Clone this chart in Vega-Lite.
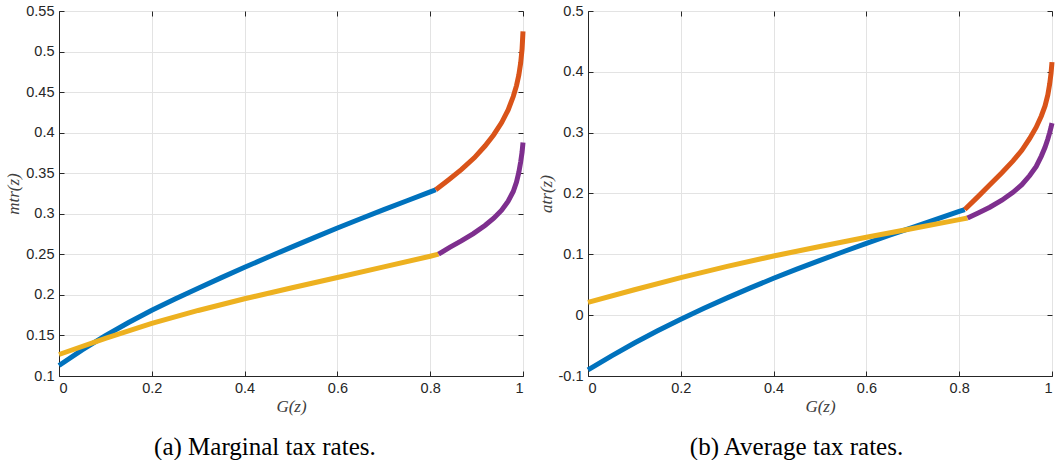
{
  "$schema": "https://vega.github.io/schema/vega-lite/v6.json",
  "background": "white",
  "padding": {"left": 4, "top": 2, "right": 0, "bottom": 0},
  "spacing": 2,
  "config": {
    "view": {"stroke": "#262626", "strokeWidth": 1},
    "axis": {
      "labelFont": "Liberation Sans",
      "labelFontSize": 14.5,
      "labelColor": "#262626",
      "titleFont": "Liberation Serif",
      "titleFontStyle": "italic",
      "titleFontWeight": "normal",
      "titleFontSize": 17,
      "titleColor": "#404040",
      "gridColor": "#e3e3e3",
      "gridWidth": 1,
      "domainColor": "#262626",
      "tickColor": "#262626",
      "tickSize": -5,
      "labelPadding": 10
    }
  },
  "datasets": {
    "curves": [
      {"panel": "a", "series": "blue", "G": 0, "rate": 0.113},
      {"panel": "a", "series": "blue", "G": 0.05, "rate": 0.1322},
      {"panel": "a", "series": "blue", "G": 0.1, "rate": 0.1498},
      {"panel": "a", "series": "blue", "G": 0.15, "rate": 0.166},
      {"panel": "a", "series": "blue", "G": 0.2, "rate": 0.181},
      {"panel": "a", "series": "blue", "G": 0.25, "rate": 0.195},
      {"panel": "a", "series": "blue", "G": 0.3, "rate": 0.2083},
      {"panel": "a", "series": "blue", "G": 0.35, "rate": 0.2213},
      {"panel": "a", "series": "blue", "G": 0.4, "rate": 0.234},
      {"panel": "a", "series": "blue", "G": 0.45, "rate": 0.2464},
      {"panel": "a", "series": "blue", "G": 0.5, "rate": 0.2586},
      {"panel": "a", "series": "blue", "G": 0.55, "rate": 0.2706},
      {"panel": "a", "series": "blue", "G": 0.6, "rate": 0.2825},
      {"panel": "a", "series": "blue", "G": 0.65, "rate": 0.2939},
      {"panel": "a", "series": "blue", "G": 0.7, "rate": 0.3051},
      {"panel": "a", "series": "blue", "G": 0.75, "rate": 0.3161},
      {"panel": "a", "series": "blue", "G": 0.8, "rate": 0.327},
      {"panel": "a", "series": "blue", "G": 0.812, "rate": 0.3296},
      {"panel": "a", "series": "orange", "G": 0.812, "rate": 0.3296},
      {"panel": "a", "series": "orange", "G": 0.84, "rate": 0.342},
      {"panel": "a", "series": "orange", "G": 0.867, "rate": 0.3545},
      {"panel": "a", "series": "orange", "G": 0.895, "rate": 0.369},
      {"panel": "a", "series": "orange", "G": 0.918, "rate": 0.3835},
      {"panel": "a", "series": "orange", "G": 0.937, "rate": 0.3975},
      {"panel": "a", "series": "orange", "G": 0.954, "rate": 0.4125},
      {"panel": "a", "series": "orange", "G": 0.968, "rate": 0.428},
      {"panel": "a", "series": "orange", "G": 0.979, "rate": 0.4445},
      {"panel": "a", "series": "orange", "G": 0.986, "rate": 0.458},
      {"panel": "a", "series": "orange", "G": 0.991, "rate": 0.471},
      {"panel": "a", "series": "orange", "G": 0.995, "rate": 0.486},
      {"panel": "a", "series": "orange", "G": 0.998, "rate": 0.503},
      {"panel": "a", "series": "orange", "G": 1.0, "rate": 0.525},
      {"panel": "a", "series": "yellow", "G": 0, "rate": 0.1265},
      {"panel": "a", "series": "yellow", "G": 0.1, "rate": 0.1465},
      {"panel": "a", "series": "yellow", "G": 0.2, "rate": 0.1648},
      {"panel": "a", "series": "yellow", "G": 0.3, "rate": 0.1808},
      {"panel": "a", "series": "yellow", "G": 0.4, "rate": 0.1952},
      {"panel": "a", "series": "yellow", "G": 0.5, "rate": 0.2085},
      {"panel": "a", "series": "yellow", "G": 0.6, "rate": 0.2215},
      {"panel": "a", "series": "yellow", "G": 0.7, "rate": 0.2345},
      {"panel": "a", "series": "yellow", "G": 0.8, "rate": 0.2477},
      {"panel": "a", "series": "yellow", "G": 0.818, "rate": 0.2502},
      {"panel": "a", "series": "purple", "G": 0.818, "rate": 0.2502},
      {"panel": "a", "series": "purple", "G": 0.842, "rate": 0.2585},
      {"panel": "a", "series": "purple", "G": 0.867, "rate": 0.2665},
      {"panel": "a", "series": "purple", "G": 0.893, "rate": 0.2755},
      {"panel": "a", "series": "purple", "G": 0.918, "rate": 0.2855},
      {"panel": "a", "series": "purple", "G": 0.937, "rate": 0.2945},
      {"panel": "a", "series": "purple", "G": 0.954, "rate": 0.3045},
      {"panel": "a", "series": "purple", "G": 0.968, "rate": 0.3155},
      {"panel": "a", "series": "purple", "G": 0.979, "rate": 0.3275},
      {"panel": "a", "series": "purple", "G": 0.986, "rate": 0.339},
      {"panel": "a", "series": "purple", "G": 0.991, "rate": 0.351},
      {"panel": "a", "series": "purple", "G": 0.995, "rate": 0.364},
      {"panel": "a", "series": "purple", "G": 0.998, "rate": 0.376},
      {"panel": "a", "series": "purple", "G": 1.0, "rate": 0.388},
      {"panel": "b", "series": "blue", "G": 0, "rate": -0.09},
      {"panel": "b", "series": "blue", "G": 0.05, "rate": -0.0672},
      {"panel": "b", "series": "blue", "G": 0.1, "rate": -0.0458},
      {"panel": "b", "series": "blue", "G": 0.15, "rate": -0.0257},
      {"panel": "b", "series": "blue", "G": 0.2, "rate": -0.0066},
      {"panel": "b", "series": "blue", "G": 0.25, "rate": 0.0114},
      {"panel": "b", "series": "blue", "G": 0.3, "rate": 0.0284},
      {"panel": "b", "series": "blue", "G": 0.35, "rate": 0.0448},
      {"panel": "b", "series": "blue", "G": 0.4, "rate": 0.0606},
      {"panel": "b", "series": "blue", "G": 0.45, "rate": 0.0756},
      {"panel": "b", "series": "blue", "G": 0.5, "rate": 0.0901},
      {"panel": "b", "series": "blue", "G": 0.55, "rate": 0.1042},
      {"panel": "b", "series": "blue", "G": 0.6, "rate": 0.118},
      {"panel": "b", "series": "blue", "G": 0.65, "rate": 0.1314},
      {"panel": "b", "series": "blue", "G": 0.7, "rate": 0.1445},
      {"panel": "b", "series": "blue", "G": 0.75, "rate": 0.1575},
      {"panel": "b", "series": "blue", "G": 0.8, "rate": 0.1705},
      {"panel": "b", "series": "blue", "G": 0.812, "rate": 0.1736},
      {"panel": "b", "series": "orange", "G": 0.812, "rate": 0.1736},
      {"panel": "b", "series": "orange", "G": 0.84, "rate": 0.1945},
      {"panel": "b", "series": "orange", "G": 0.866, "rate": 0.2145},
      {"panel": "b", "series": "orange", "G": 0.892, "rate": 0.234},
      {"panel": "b", "series": "orange", "G": 0.916, "rate": 0.2535},
      {"panel": "b", "series": "orange", "G": 0.935, "rate": 0.271},
      {"panel": "b", "series": "orange", "G": 0.952, "rate": 0.2905},
      {"panel": "b", "series": "orange", "G": 0.966, "rate": 0.309},
      {"panel": "b", "series": "orange", "G": 0.977, "rate": 0.3275},
      {"panel": "b", "series": "orange", "G": 0.985, "rate": 0.344},
      {"panel": "b", "series": "orange", "G": 0.991, "rate": 0.362},
      {"panel": "b", "series": "orange", "G": 0.995, "rate": 0.38},
      {"panel": "b", "series": "orange", "G": 0.998, "rate": 0.398},
      {"panel": "b", "series": "orange", "G": 1.0, "rate": 0.416},
      {"panel": "b", "series": "yellow", "G": 0, "rate": 0.021},
      {"panel": "b", "series": "yellow", "G": 0.1, "rate": 0.0418},
      {"panel": "b", "series": "yellow", "G": 0.2, "rate": 0.0618},
      {"panel": "b", "series": "yellow", "G": 0.3, "rate": 0.0802},
      {"panel": "b", "series": "yellow", "G": 0.4, "rate": 0.0972},
      {"panel": "b", "series": "yellow", "G": 0.5, "rate": 0.1128},
      {"panel": "b", "series": "yellow", "G": 0.6, "rate": 0.128},
      {"panel": "b", "series": "yellow", "G": 0.7, "rate": 0.1425},
      {"panel": "b", "series": "yellow", "G": 0.8, "rate": 0.157},
      {"panel": "b", "series": "yellow", "G": 0.818, "rate": 0.1598},
      {"panel": "b", "series": "purple", "G": 0.818, "rate": 0.1598},
      {"panel": "b", "series": "purple", "G": 0.842, "rate": 0.1685},
      {"panel": "b", "series": "purple", "G": 0.866, "rate": 0.1775},
      {"panel": "b", "series": "purple", "G": 0.892, "rate": 0.189},
      {"panel": "b", "series": "purple", "G": 0.916, "rate": 0.202},
      {"panel": "b", "series": "purple", "G": 0.935, "rate": 0.2145},
      {"panel": "b", "series": "purple", "G": 0.952, "rate": 0.2295},
      {"panel": "b", "series": "purple", "G": 0.966, "rate": 0.2445},
      {"panel": "b", "series": "purple", "G": 0.977, "rate": 0.2615},
      {"panel": "b", "series": "purple", "G": 0.985, "rate": 0.276},
      {"panel": "b", "series": "purple", "G": 0.991, "rate": 0.2895},
      {"panel": "b", "series": "purple", "G": 0.995, "rate": 0.300},
      {"panel": "b", "series": "purple", "G": 0.998, "rate": 0.309},
      {"panel": "b", "series": "purple", "G": 1.0, "rate": 0.3157}
    ]
  },
  "hconcat": [
    {
      "width": 464,
      "height": 365,
      "data": {"name": "curves"},
      "transform": [{"filter": "datum.panel === 'a'"}],
      "title": {"text": "(a) Marginal tax rates.", "orient": "bottom", "frame": "bounds", "anchor": "middle", "dx": -4, "font": "Liberation Serif", "fontSize": 25, "fontWeight": "normal", "color": "black", "offset": 20},
      "layer": [
        {
          "mark": {"type": "line", "strokeWidth": 5, "strokeCap": "butt"},
          "encoding": {
            "x": {"field": "G", "type": "quantitative", "scale": {"domain": [0, 1], "nice": false},
                  "axis": {"orient": "bottom", "title": "G(z)", "values": [0, 0.2, 0.4, 0.6, 0.8, 1], "format": "~g", "grid": true, "titlePadding": 4}},
            "y": {"field": "rate", "type": "quantitative", "scale": {"domain": [0.1, 0.55], "nice": false, "zero": false},
                  "axis": {"orient": "left", "title": "mtr(z)", "values": [0.1, 0.15, 0.2, 0.25, 0.3, 0.35, 0.4, 0.45, 0.5, 0.55], "format": "~g", "grid": true, "titlePadding": 3}},
            "color": {"field": "series", "type": "nominal", "scale": {"domain": ["blue", "orange", "yellow", "purple"], "range": ["#0072BD", "#D95319", "#EDB120", "#7E2F8E"]}, "legend": null}
          }
        },
        {
          "mark": {"type": "point", "opacity": 0},
          "encoding": {
            "x": {"field": "G", "type": "quantitative", "scale": {"domain": [0, 1], "nice": false},
                  "axis": {"orient": "top", "title": null, "values": [0, 0.2, 0.4, 0.6, 0.8, 1], "labels": false, "grid": false, "domain": false}},
            "y": {"field": "rate", "type": "quantitative", "scale": {"domain": [0.1, 0.55], "nice": false, "zero": false},
                  "axis": {"orient": "right", "title": null, "values": [0.1, 0.15, 0.2, 0.25, 0.3, 0.35, 0.4, 0.45, 0.5, 0.55], "labels": false, "grid": false, "domain": false}}
          }
        }
      ],
      "resolve": {"scale": {"x": "independent", "y": "independent"}}
    },
    {
      "width": 464,
      "height": 365,
      "data": {"name": "curves"},
      "transform": [{"filter": "datum.panel === 'b'"}],
      "title": {"text": "(b) Average tax rates.", "orient": "bottom", "frame": "bounds", "anchor": "middle", "dx": -3, "font": "Liberation Serif", "fontSize": 25, "fontWeight": "normal", "color": "black", "offset": 20},
      "layer": [
        {
          "mark": {"type": "line", "strokeWidth": 5, "strokeCap": "butt"},
          "encoding": {
            "x": {"field": "G", "type": "quantitative", "scale": {"domain": [0, 1], "nice": false},
                  "axis": {"orient": "bottom", "title": "G(z)", "values": [0, 0.2, 0.4, 0.6, 0.8, 1], "format": "~g", "grid": true, "titlePadding": 4}},
            "y": {"field": "rate", "type": "quantitative", "scale": {"domain": [-0.1, 0.5], "nice": false, "zero": false},
                  "axis": {"orient": "left", "title": "atr(z)", "values": [-0.1, 0, 0.1, 0.2, 0.3, 0.4, 0.5], "format": "~g", "labelExpr": "replace(datum.label, '\u2212', '-')", "grid": true, "titlePadding": 3}},
            "color": {"field": "series", "type": "nominal", "scale": {"domain": ["blue", "orange", "yellow", "purple"], "range": ["#0072BD", "#D95319", "#EDB120", "#7E2F8E"]}, "legend": null}
          }
        },
        {
          "mark": {"type": "point", "opacity": 0},
          "encoding": {
            "x": {"field": "G", "type": "quantitative", "scale": {"domain": [0, 1], "nice": false},
                  "axis": {"orient": "top", "title": null, "values": [0, 0.2, 0.4, 0.6, 0.8, 1], "labels": false, "grid": false, "domain": false}},
            "y": {"field": "rate", "type": "quantitative", "scale": {"domain": [-0.1, 0.5], "nice": false, "zero": false},
                  "axis": {"orient": "right", "title": null, "values": [-0.1, 0, 0.1, 0.2, 0.3, 0.4, 0.5], "labels": false, "grid": false, "domain": false}}
          }
        }
      ],
      "resolve": {"scale": {"x": "independent", "y": "independent"}}
    }
  ]
}
